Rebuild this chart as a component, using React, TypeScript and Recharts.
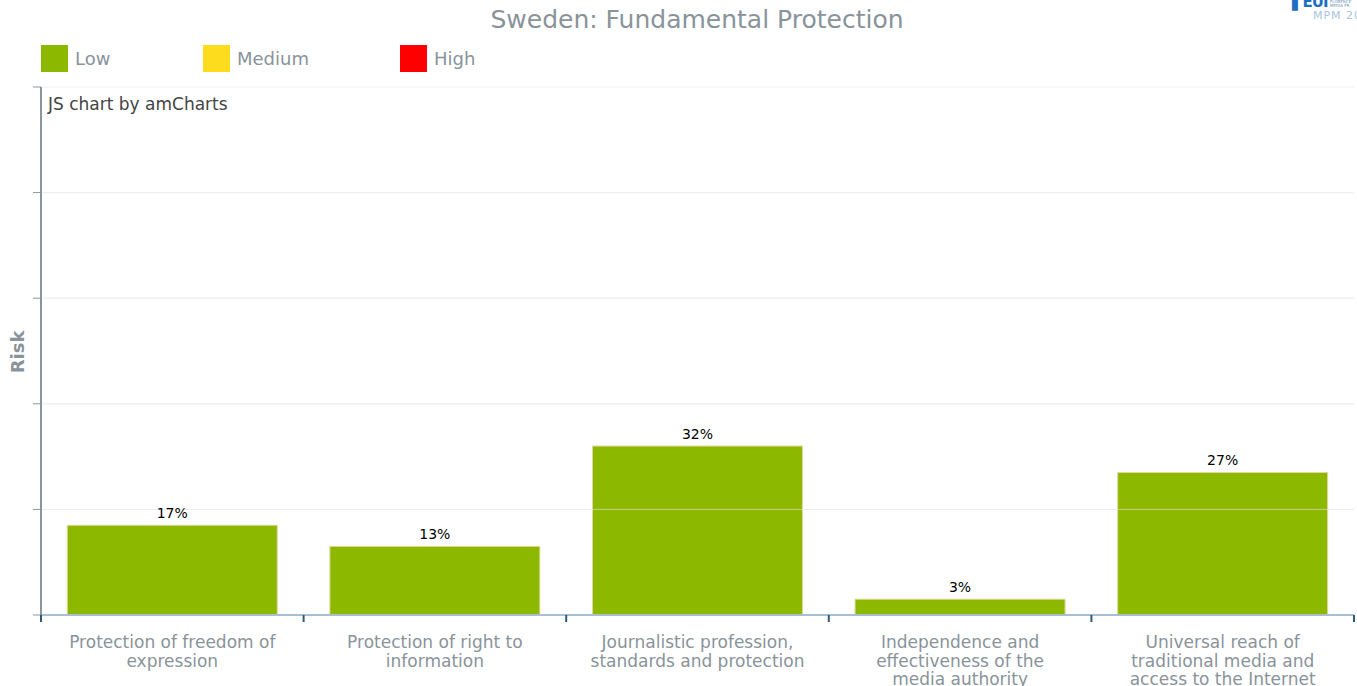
import React from "react";
import {
  BarChart,
  Bar,
  XAxis,
  YAxis,
  CartesianGrid,
  LabelList,
  ReferenceLine,
  Text,
} from "recharts";

// Category names, broken into the lines they are printed on
const categoryLines = [
  ["Protection of freedom of", "expression"],
  ["Protection of right to", "information"],
  ["Journalistic profession,", "standards and protection"],
  ["Independence and", "effectiveness of the", "media authority"],
  ["Universal reach of", "traditional media and", "access to the Internet"],
];
const categories = categoryLines.map((l) => l.join(" "));
const riskValues = [17, 13, 32, 3, 27];
const riskTicks = [0, 20, 40, 60, 80, 100];

const legendItems = [
  { name: "Low", color: "#8db800" },
  { name: "Medium", color: "#fcdc1c" },
  { name: "High", color: "#ff0000" },
];

const data = categories.map((name, i) => ({ name, value: riskValues[i] }));

const FONT = "'DejaVu Sans', Verdana, sans-serif";
const GREY = "#89939a";
const TICK_BLUE = "#2c5b7a";

// category label plus the small marks on the band edges
const CategoryTick = (props: any) => {
  const { x, y, payload, index } = props;
  const idx = categories.indexOf(payload.value);
  const lines = categoryLines[idx] || [payload.value];
  const half = payload.offset || 0;
  const axisY = y - 8;
  return (
    <g>
      <line
        x1={x - half}
        x2={x - half}
        y1={axisY}
        y2={axisY + 7}
        stroke={TICK_BLUE}
        strokeWidth={2}
      />
      {index === categories.length - 1 && (
        <line
          x1={x + half}
          x2={x + half}
          y1={axisY}
          y2={axisY + 7}
          stroke={TICK_BLUE}
          strokeWidth={2}
        />
      )}
      {lines.map((line, i) => (
        <Text
          key={i}
          x={x}
          y={y + 19 + i * 18.5}
          textAnchor="middle"
          verticalAnchor="middle"
          fontSize={17}
          fontFamily={FONT}
          fill={GREY}
        >
          {line}
        </Text>
      ))}
    </g>
  );
};

const NoTick = () => <g />;

export default function App() {
  return (
    <div
      style={{
        position: "absolute",
        left: 0,
        top: 0,
        width: 1357,
        height: 686,
        background: "#fff",
        fontFamily: FONT,
        overflow: "hidden",
      }}
    >
      <BarChart
        width={1357}
        height={686}
        data={data}
        margin={{ top: 87, right: 3, bottom: 0, left: 0 }}
        barCategoryGap="10%"
      >
        <CartesianGrid vertical={false} stroke="#f2f2f2" />
        <XAxis
          dataKey="name"
          type="category"
          height={71}
          interval={0}
          tickLine={false}
          axisLine={{ stroke: "#a7bfd1", strokeWidth: 2 }}
          tick={<CategoryTick />}
        />
        <YAxis
          width={41}
          domain={[0, 100]}
          ticks={riskTicks}
          tick={NoTick}
          tickSize={8}
          tickLine={{ stroke: "#8b959c" }}
          axisLine={{ stroke: "#8b959c", strokeWidth: 2 }}
        />
        <Bar
          dataKey="value"
          fill="#8db800"
          stroke="#e6d79c"
          strokeWidth={1}
          isAnimationActive={false}
        >
          <LabelList
            dataKey="value"
            position="top"
            offset={7}
            formatter={(v: any) => `${v}%`}
            fill="#000"
            fontSize={14}
            fontFamily={FONT}
          />
        </Bar>
        {riskTicks.slice(1, -1).map((t) => (
          <ReferenceLine
            key={t}
            y={t}
            stroke="#e9e9e9"
            strokeOpacity={0.55}
          />
        ))}
      </BarChart>

      {/* title */}
      <div
        style={{
          position: "absolute",
          left: 0,
          width: 1394,
          top: 4,
          textAlign: "center",
          fontSize: 25,
          color: GREY,
          lineHeight: "32px",
        }}
      >
        Sweden: Fundamental Protection
      </div>

      {/* legend */}
      {legendItems.map((item, i) => {
        const left = [41, 203, 400][i];
        return (
          <div
            key={item.name}
            style={{
              position: "absolute",
              left,
              top: 45,
              display: "flex",
              alignItems: "center",
              height: 27,
            }}
          >
            <div
              style={{
                width: 27,
                height: 27,
                background: item.color,
                marginRight: 7,
              }}
            />
            <span style={{ fontSize: 18, color: GREY }}>{item.name}</span>
          </div>
        );
      })}

      {/* credit */}
      <div
        style={{
          position: "absolute",
          left: 48,
          top: 94,
          fontSize: 17,
          color: "#444",
        }}
      >
        JS chart by amCharts
      </div>

      {/* axis title */}
      <div
        style={{
          position: "absolute",
          left: 17,
          top: 352,
          transform: "translate(-50%, -50%) rotate(-90deg)",
          fontSize: 18,
          fontWeight: "bold",
          color: GREY,
          whiteSpace: "nowrap",
        }}
      >
        Risk
      </div>

      {/* logo corner */}
      <div
        style={{
          position: "absolute",
          left: 1292,
          top: -7,
          fontSize: 15,
          fontWeight: "bold",
          color: "#1f6fc0",
          letterSpacing: -1,
          whiteSpace: "nowrap",
        }}
      >
        ▌EUI
      </div>
      <div
        style={{
          position: "absolute",
          left: 1330,
          top: 0,
          fontSize: 4,
          lineHeight: "4px",
          color: "#6b8fb5",
          whiteSpace: "nowrap",
        }}
      >
        FLORENCE
        <br />
        MEDIA PR
      </div>
      <div
        style={{
          position: "absolute",
          left: 1313,
          top: 9,
          fontSize: 11,
          lineHeight: "13px",
          color: "#a9c3de",
          letterSpacing: 1,
          whiteSpace: "nowrap",
        }}
      >
        MPM 20
      </div>
    </div>
  );
}
